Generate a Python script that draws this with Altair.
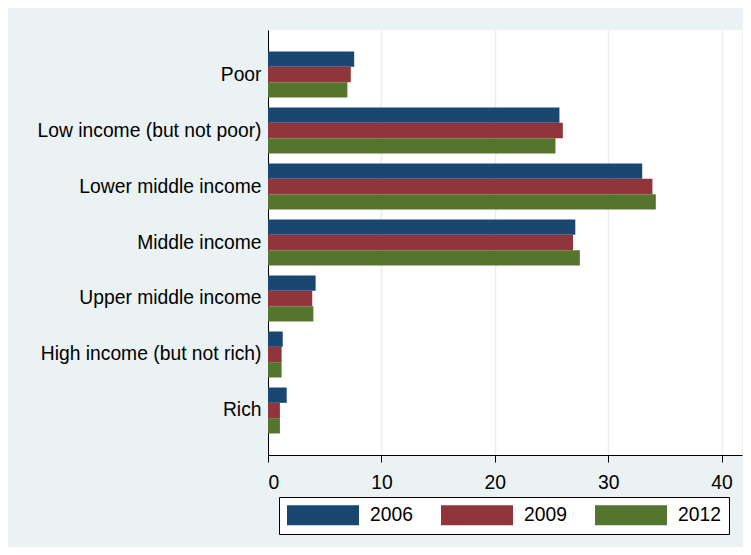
import altair as alt
import pandas as pd

categories = [
    "Poor",
    "Low income (but not poor)",
    "Lower middle income",
    "Middle income",
    "Upper middle income",
    "High income (but not rich)",
    "Rich",
]
years = ["2006", "2009", "2012"]
values_2006 = [7.6, 25.7, 33.0, 27.1, 4.2, 1.3, 1.65]
values_2009 = [7.3, 26.0, 33.9, 26.9, 3.9, 1.2, 1.05]
values_2012 = [7.0, 25.35, 34.2, 27.5, 4.0, 1.2, 1.05]
colors = ["#1a476f", "#90353b", "#55752f"]
x_ticks = [0, 10, 20, 30, 40]

rows = []
for year, vals in zip(years, [values_2006, values_2009, values_2012]):
    for cat, v in zip(categories, vals):
        rows.append({"Group": cat, "Year": year, "Percent": v})
df = pd.DataFrame(rows)

FONT = "Liberation Sans"

chart = (
    alt.Chart(df)
    .mark_bar()
    .encode(
        y=alt.Y(
            "Group:N",
            sort=categories,
            scale=alt.Scale(paddingInner=0.1786, paddingOuter=0.384),
            axis=alt.Axis(
                title=None,
                ticks=False,
                labelPadding=7,
                labelFontSize=19.3,
                labelFont=FONT,
                labelColor="black",
                domainColor="black",
                domainWidth=1,
                labelLimit=400,
                grid=False,
            ),
        ),
        yOffset=alt.YOffset(
            "Year:N", sort=years, scale=alt.Scale(paddingInner=0, paddingOuter=0)
        ),
        x=alt.X(
            "Percent:Q",
            scale=alt.Scale(domain=[0, 41.8], nice=False, zero=True),
            axis=alt.Axis(
                title=None,
                values=x_ticks,
                format="d",
                tickSize=7,
                tickColor="black",
                tickWidth=1,
                labelPadding=11,
                labelFontSize=19.3,
                labelFont=FONT,
                labelColor="black",
                domainColor="black",
                domainWidth=1,
                grid=True,
                gridColor="#e6eef1",
                gridWidth=1.5,
            ),
        ),
        color=alt.Color(
            "Year:N",
            sort=years,
            scale=alt.Scale(domain=years, range=colors),
            legend=alt.Legend(
                title=None,
                orient="none",
                direction="horizontal",
                legendX=11,
                legendY=467,
                symbolType="M-3.6,-1L3.6,-1L3.6,1L-3.6,1Z",
                symbolSize=400,
                symbolStrokeWidth=0,
                symbolOffset=26,
                labelOffset=37,
                columnPadding=28,
                padding=8,
                strokeColor="black",
                fillColor="white",
                labelFontSize=19.3,
                labelFont=FONT,
                labelColor="black",
                symbolOpacity=1,
            ),
        ),
    )
    .properties(
        width=474,
        height=425,
        autosize=alt.AutoSizeParams(type="none"),
        padding={"left": 260, "top": 22, "right": 1, "bottom": 92},
        background="#eaf2f3",
    )
    .configure_view(fill="white", stroke=None)
)

chart.save("out.html", embed_options={"renderer": "svg", "actions": False})
